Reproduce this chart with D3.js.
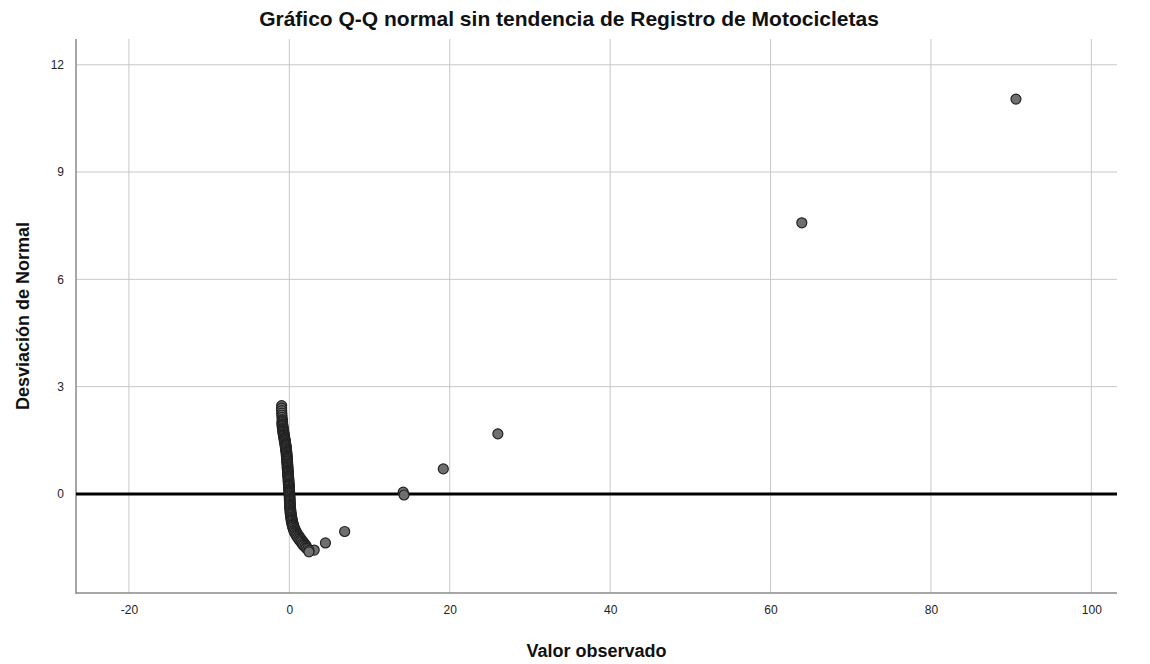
<!DOCTYPE html>
<html>
<head>
<meta charset="utf-8">
<script src="https://cdn.jsdelivr.net/npm/d3@7"></script>
<style>
  html, body { margin: 0; padding: 0; background: #fff; }
  svg { display: block; font-family: Arial, "Liberation Sans", sans-serif; }
</style>
</head>
<body>
<svg id="chart" width="1150" height="664"></svg>
<script>
// Detrended normal Q-Q plot: observed value vs. deviation from normal
const titleText = "Gráfico Q-Q normal sin tendencia de Registro de Motocicletas";
const xLabel = "Valor observado";
const yLabel = "Desviación de Normal";

const xTicks = [-20, 0, 20, 40, 60, 80, 100];
const yTicks = [0, 3, 6, 9, 12];

// observed values (x) and their deviations from normal (y)
const observed = [
  -0.96, -0.96, -0.95, -0.94, -0.93, -0.91, -0.89, -0.87, -0.85, -0.83,
  -0.80, -0.77, -0.74, -0.70, -0.66, -0.62, -0.58, -0.54, -0.50, -0.46,
  -0.43, -0.40, -0.37, -0.34, -0.32, -0.30, -0.28, -0.26, -0.24, -0.22,
  -0.21, -0.20, -0.18, -0.17, -0.15, -0.13, -0.11, -0.09, -0.08, -0.06,
  -0.05, -0.03, -0.02, 0.00, 0.02, 0.04, 0.05, 0.06, 0.07, 0.08,
  0.09, 0.10, 0.12, 0.14, 0.16, 0.18, 0.21, 0.24, 0.28, 0.32,
  0.37, 0.42, 0.48, 0.56, 0.64, 0.74, 0.85, 0.97, 1.10, 1.24,
  1.38, 1.53, 1.68, 1.84, 2.00, 2.16, 2.30, 2.45,
  2.45, 3.10, 4.50, 6.90, 14.20, 14.30, 19.20, 26.00, 63.90, 90.60
];
const deviation = [
  2.47, 2.40, 2.33, 2.26, 2.20, 2.14, 2.08, 2.02, 1.96, 1.91,
  1.85, 1.80, 1.75, 1.69, 1.64, 1.58, 1.53, 1.48, 1.42, 1.37,
  1.32, 1.27, 1.21, 1.16, 1.11, 1.05, 1.00, 0.95, 0.90, 0.84,
  0.79, 0.74, 0.68, 0.63, 0.58, 0.52, 0.47, 0.42, 0.37, 0.31,
  0.26, 0.21, 0.15, 0.10, 0.05, 0.00, -0.06, -0.11, -0.16, -0.21,
  -0.27, -0.32, -0.37, -0.43, -0.48, -0.53, -0.58, -0.64, -0.69, -0.74,
  -0.80, -0.85, -0.90, -0.96, -1.01, -1.06, -1.11, -1.15, -1.20, -1.24,
  -1.29, -1.33, -1.38, -1.42, -1.46, -1.50, -1.54, -1.58,
  -1.62, -1.57, -1.37, -1.05, 0.05, -0.03, 0.70, 1.68, 7.58, 11.04
];

// further cases along the right edge of the dense band near zero
const observedRight = [
  -0.86, -0.84, -0.82, -0.79, -0.76, -0.72, -0.68, -0.64, -0.60, -0.56,
  -0.52, -0.48, -0.45, -0.41, -0.38, -0.35, -0.33, -0.31, -0.29, -0.27,
  -0.25, -0.23, -0.21, -0.20, -0.19, -0.17, -0.16, -0.14, -0.12, -0.10,
  -0.08, -0.07, -0.05, -0.04, -0.02, -0.01, 0.01, 0.03, 0.04, 0.05,
  0.06, 0.07, 0.08, 0.09, 0.11, 0.13, 0.15, 0.17, 0.19, 0.22,
  0.26, 0.30, 0.34, 0.39, 0.45, 0.52, 0.60, 0.69, 0.79, 0.91,
  1.03, 1.17, 1.31, 1.45, 1.60, 1.76, 1.92, 2.08
];
const deviationRight = [
  2.05, 1.99, 1.93, 1.88, 1.82, 1.77, 1.72, 1.66, 1.61, 1.55,
  1.50, 1.45, 1.39, 1.34, 1.29, 1.24, 1.18, 1.13, 1.08, 1.02,
  0.97, 0.92, 0.87, 0.81, 0.76, 0.71, 0.65, 0.60, 0.55, 0.49,
  0.44, 0.39, 0.34, 0.28, 0.23, 0.18, 0.12, 0.07, 0.02, -0.03,
  -0.08, -0.13, -0.18, -0.24, -0.29, -0.34, -0.40, -0.45, -0.50, -0.55,
  -0.61, -0.66, -0.71, -0.77, -0.82, -0.87, -0.93, -0.98, -1.03, -1.08,
  -1.13, -1.17, -1.22, -1.26, -1.31, -1.35, -1.40, -1.44
];

// cases along the left edge of the same band
const observedLeft = [
  -0.93, -0.91, -0.89, -0.86, -0.83, -0.80, -0.76, -0.72, -0.68, -0.64,
  -0.60, -0.56, -0.52, -0.49, -0.46, -0.43, -0.40, -0.38, -0.36, -0.34,
  -0.32, -0.30, -0.28, -0.27, -0.26, -0.24, -0.23, -0.21, -0.19, -0.17,
  -0.15, -0.14, -0.12, -0.11, -0.09, -0.08, -0.06, -0.04, -0.02, -0.01,
  0.00, 0.01, 0.02, 0.03, 0.04, 0.06, 0.08, 0.10, 0.12, 0.15,
  0.18, 0.22, 0.26, 0.31, 0.36, 0.42, 0.50, 0.58, 0.68, 0.79,
  0.91, 1.04, 1.18, 1.32, 1.47, 1.62, 1.78, 1.94, 2.10
];
const deviationLeft = [
  1.99, 1.94, 1.88, 1.83, 1.78, 1.72, 1.67, 1.61, 1.56, 1.51,
  1.45, 1.40, 1.35, 1.29, 1.24, 1.19, 1.14, 1.08, 1.03, 0.97,
  0.92, 0.87, 0.82, 0.76, 0.71, 0.66, 0.60, 0.55, 0.50, 0.45,
  0.39, 0.34, 0.29, 0.24, 0.18, 0.13, 0.08, 0.02, -0.03, -0.08,
  -0.14, -0.19, -0.24, -0.29, -0.35, -0.40, -0.45, -0.51, -0.56, -0.61,
  -0.66, -0.72, -0.77, -0.82, -0.88, -0.93, -0.98, -1.04, -1.09, -1.13,
  -1.18, -1.22, -1.27, -1.31, -1.35, -1.40, -1.44, -1.48, -1.52
];

const svg = d3.select("#chart");
const plot = { left: 76, right: 1117, top: 39, bottom: 593 };

const x = d3.scaleLinear().domain([-26.6, 103.2]).range([plot.left, plot.right]);
const y = d3.scaleLinear().domain([-2.77, 12.72]).range([plot.bottom, plot.top]);

// grid lines
const grid = svg.append("g");
grid.selectAll("line.vx").data(xTicks).join("line")
  .attr("x1", d => x(d)).attr("x2", d => x(d))
  .attr("y1", plot.top).attr("y2", plot.bottom)
  .attr("stroke", "#c8c8c8").attr("stroke-width", 1);
grid.selectAll("line.hy").data(yTicks.filter(d => d !== 0)).join("line")
  .attr("x1", plot.left).attr("x2", plot.right)
  .attr("y1", d => y(d)).attr("y2", d => y(d))
  .attr("stroke", "#c8c8c8").attr("stroke-width", 1);

// axes
const fmt = d => String(d);
const xAxis = d3.axisBottom(x).tickValues(xTicks).tickFormat(fmt).tickSize(0).tickPadding(12);
const yAxis = d3.axisLeft(y).tickValues(yTicks).tickFormat(fmt).tickSize(0).tickPadding(12);

const gx = svg.append("g").attr("transform", `translate(0,${plot.bottom})`).call(xAxis);
const gy = svg.append("g").attr("transform", `translate(${plot.left},0)`).call(yAxis);
gx.select(".domain").remove();
gy.select(".domain").remove();
[gx, gy].forEach(g => g.selectAll("text")
  .attr("font-size", 12).attr("fill", "#222").attr("font-family", "Arial, 'Liberation Sans', sans-serif"));

svg.append("line")
  .attr("x1", plot.left).attr("x2", plot.left)
  .attr("y1", plot.top).attr("y2", plot.bottom + 1)
  .attr("stroke", "#8a8a8a").attr("stroke-width", 1.5);
svg.append("line")
  .attr("x1", plot.left).attr("x2", plot.right)
  .attr("y1", plot.bottom).attr("y2", plot.bottom)
  .attr("stroke", "#8a8a8a").attr("stroke-width", 1.5);

// reference line at zero deviation
svg.append("line")
  .attr("x1", plot.left).attr("x2", plot.right)
  .attr("y1", y(0)).attr("y2", y(0))
  .attr("stroke", "#000").attr("stroke-width", 3);

// points, drawn from the highest deviation downwards so overlaps stack evenly
const toPts = (xs, ys) => xs.map((v, i) => ({ v, d: ys[i] }));
const pts = toPts(observed, deviation)
  .concat(toPts(observedRight, deviationRight))
  .concat(toPts(observedLeft, deviationLeft))
  .sort((a, b) => b.d - a.d);
svg.append("g").selectAll("circle").data(pts).join("circle")
  .attr("cx", p => x(p.v)).attr("cy", p => y(p.d)).attr("r", 5)
  .attr("fill", "#6f6f6f").attr("stroke", "#222").attr("stroke-width", 1.2);

// titles
svg.append("text")
  .attr("x", 569).attr("y", 26)
  .attr("text-anchor", "middle").attr("font-size", 21).attr("font-weight", "bold")
  .attr("fill", "#111").text(titleText);
svg.append("text")
  .attr("x", (plot.left + plot.right) / 2).attr("y", 657)
  .attr("text-anchor", "middle").attr("font-size", 18).attr("font-weight", "bold")
  .attr("fill", "#111").text(xLabel);
svg.append("text")
  .attr("transform", `translate(29,${(plot.top + plot.bottom) / 2}) rotate(-90)`)
  .attr("text-anchor", "middle").attr("font-size", 18).attr("font-weight", "bold")
  .attr("fill", "#111").text(yLabel);
</script>
</body>
</html>
